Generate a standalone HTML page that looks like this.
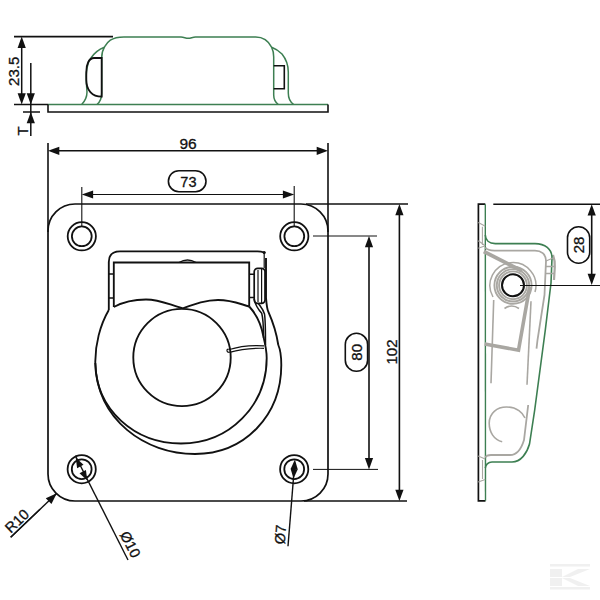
<!DOCTYPE html>
<html><head><meta charset="utf-8"><style>
html,body{margin:0;padding:0;background:#fff;width:600px;height:600px;overflow:hidden}
svg{display:block}
text{font-family:"Liberation Sans",sans-serif;stroke:#111;stroke-width:0.3px}
</style></head><body>
<svg width="600" height="600" viewBox="0 0 600 600">
<line x1="14" y1="36.6" x2="113" y2="36.6" stroke="#111" stroke-width="1.6"/>
<line x1="14" y1="104.5" x2="48" y2="104.5" stroke="#111" stroke-width="1.6"/>
<line x1="21.7" y1="40" x2="21.7" y2="101" stroke="#111" stroke-width="1.5"/>
<polygon points="21.70,36.60 25.80,47.90 17.60,47.90" fill="#111"/>
<polygon points="21.70,104.50 17.60,93.20 25.80,93.20" fill="#111"/>
<text x="13.8" y="71.3" font-size="15" text-anchor="middle" fill="#111" dominant-baseline="central" transform="rotate(-90 13.8 71.3)">23.5</text>
<line x1="30.8" y1="63" x2="30.8" y2="136" stroke="#111" stroke-width="1.5"/>
<polygon points="30.80,104.50 26.70,93.20 34.90,93.20" fill="#111"/>
<polygon points="30.80,112.00 34.90,123.30 26.70,123.30" fill="#111"/>
<line x1="23" y1="112" x2="40" y2="112" stroke="#111" stroke-width="1.5"/>
<text x="23" y="130.8" font-size="15" text-anchor="middle" fill="#111" dominant-baseline="central" transform="rotate(-90 23 130.8)">T</text>
<line x1="48" y1="104.5" x2="328" y2="104.5" stroke="#3d7f52" stroke-width="1.6"/>
<path d="M48,104.5 V112 H328 V104.5" stroke="#111" stroke-width="1.6" fill="none" />
<path d="M81.7,104.5 C86,100 87,96 87,92 C86.5,85 86,80 86.3,74 C87,66 88,61 91,58 C95,52 100,49 104.3,47.3 C107,43 110,37 124,37 H181 C184,37 185.5,38.3 188.3,38.3 C191,38.3 192.5,37 195.5,37 H255.7 C264,37 269,42 271.7,47.3 C276,49 279,51 282,54 C286,59 288.3,64 288.3,72 V93 C288.3,99 290,102 293.7,104.5" stroke="#3d7f52" stroke-width="1.5" fill="none" />
<path d="M104.3,47.3 C102,51 101.7,54 101.7,58 V93 C101.7,99 100,102 97,104.5" stroke="#3d7f52" stroke-width="1.5" fill="none" />
<path d="M271.7,47.3 C273,50 273.7,53 273.7,57 V95 C273.7,99 275,102 278.3,104.5" stroke="#3d7f52" stroke-width="1.5" fill="none" />
<path d="M101.7,58 H94 C89,58 86.3,64 86.3,72 V80 C86.3,90 92,96.7 101.7,96.7 Z" stroke="#111" stroke-width="1.8" fill="none" />
<path d="M273.7,65.7 H284.3 V88.7 H273.7" stroke="#111" stroke-width="1.6" fill="none" />
<rect x="48" y="204" width="280" height="297" rx="27" ry="27" fill="none" stroke="#111" stroke-width="1.7"/>
<line x1="48" y1="143" x2="48" y2="232" stroke="#111" stroke-width="1.6"/>
<line x1="328" y1="143" x2="328" y2="232" stroke="#111" stroke-width="1.6"/>
<line x1="52" y1="150.8" x2="324" y2="150.8" stroke="#111" stroke-width="1.6"/>
<polygon points="48.00,150.80 59.30,146.70 59.30,154.90" fill="#111"/>
<polygon points="328.00,150.80 316.70,154.90 316.70,146.70" fill="#111"/>
<text x="188" y="143.3" font-size="15.5" text-anchor="middle" fill="#111" dominant-baseline="central" transform="rotate(0 188 143.3)">96</text>
<line x1="81.8" y1="187" x2="81.8" y2="226.5" stroke="#111" stroke-width="1.1"/>
<line x1="294.2" y1="186" x2="294.2" y2="226.5" stroke="#111" stroke-width="1.1"/>
<line x1="84" y1="194.5" x2="291" y2="194.5" stroke="#111" stroke-width="1.1"/>
<polygon points="81.80,194.50 93.10,190.40 93.10,198.60" fill="#111"/>
<polygon points="294.20,194.50 282.90,198.60 282.90,190.40" fill="#111"/>
<rect x="168.4" y="170.7" width="37.599999999999994" height="21.0" rx="10.5" ry="10.5" fill="#fff" stroke="#111" stroke-width="1.6"/>
<text x="188.4" y="181.5" font-size="14.5" text-anchor="middle" fill="#111" dominant-baseline="central" transform="rotate(0 188.4 181.5)">73</text>
<circle cx="81.8" cy="236.3" r="14.1" fill="none" stroke="#111" stroke-width="1.8"/>
<circle cx="81.8" cy="236.3" r="9.9" fill="none" stroke="#111" stroke-width="1.8"/>
<circle cx="294.3" cy="236.3" r="14.1" fill="none" stroke="#111" stroke-width="1.8"/>
<circle cx="294.3" cy="236.3" r="9.9" fill="none" stroke="#111" stroke-width="1.8"/>
<circle cx="81.7" cy="469.2" r="14.1" fill="none" stroke="#111" stroke-width="1.8"/>
<circle cx="81.7" cy="469.2" r="9.9" fill="none" stroke="#111" stroke-width="1.8"/>
<circle cx="294.2" cy="469.2" r="14.1" fill="none" stroke="#111" stroke-width="1.8"/>
<circle cx="294.2" cy="469.2" r="9.9" fill="none" stroke="#111" stroke-width="1.8"/>
<line x1="306" y1="204" x2="408" y2="204" stroke="#111" stroke-width="1.5"/>
<line x1="304" y1="501" x2="407" y2="501" stroke="#111" stroke-width="1.5"/>
<line x1="399.4" y1="208" x2="399.4" y2="497" stroke="#111" stroke-width="1.6"/>
<polygon points="399.40,204.00 403.50,215.30 395.30,215.30" fill="#111"/>
<polygon points="399.40,501.00 395.30,489.70 403.50,489.70" fill="#111"/>
<text x="391.8" y="352" font-size="15" text-anchor="middle" fill="#111" dominant-baseline="central" transform="rotate(-90 391.8 352)">102</text>
<line x1="313" y1="236" x2="377" y2="236" stroke="#111" stroke-width="1"/>
<line x1="313" y1="469.4" x2="378" y2="469.4" stroke="#111" stroke-width="1"/>
<line x1="369" y1="240" x2="369" y2="466" stroke="#111" stroke-width="1.6"/>
<polygon points="369.00,236.00 373.10,247.30 364.90,247.30" fill="#111"/>
<polygon points="369.00,469.40 364.90,458.10 373.10,458.10" fill="#111"/>
<rect x="345.3" y="333.3" width="22.30000000000001" height="38.0" rx="11.150000000000006" ry="11.150000000000006" fill="#fff" stroke="#111" stroke-width="1.6"/>
<text x="356.4" y="352.3" font-size="15" text-anchor="middle" fill="#111" dominant-baseline="central" transform="rotate(-90 356.4 352.3)">80</text>
<line x1="56.8" y1="493.3" x2="10.7" y2="537.3" stroke="#111" stroke-width="1.4"/>
<polygon points="56.80,493.30 51.46,504.07 45.79,498.14" fill="#111"/>
<line x1="10.7" y1="537.3" x2="40" y2="509.3" stroke="#111" stroke-width="1.4"/>
<text x="17" y="521" font-size="14.5" text-anchor="middle" fill="#111" dominant-baseline="central" transform="rotate(-43.6 17 521)">R10</text>
<line x1="75.4" y1="455.8" x2="128" y2="560" stroke="#111" stroke-width="1.4"/>
<polygon points="75.70,457.60 83.49,464.83 77.09,468.14" fill="#111"/>
<polygon points="87.30,480.60 79.51,473.37 85.91,470.06" fill="#111"/>
<text x="130.3" y="544.5" font-size="14.5" text-anchor="middle" fill="#111" dominant-baseline="central" transform="rotate(63 130.3 544.5)">&#216;10</text>
<line x1="294.2" y1="469" x2="288" y2="546.3" stroke="#111" stroke-width="1.4"/>
<polygon points="294.90,459.60 297.80,469.43 290.62,468.92" fill="#111"/>
<polygon points="293.50,478.60 290.60,468.77 297.78,469.28" fill="#111"/>
<text x="280.5" y="534.5" font-size="14.5" text-anchor="middle" fill="#111" dominant-baseline="central" transform="rotate(-86 280.5 534.5)">&#216;7</text>
<path d="M108.8,310 V262 Q108.8,251.3 120,251.3 H257.5 Q261,251.3 264.2,252.5" stroke="#111" stroke-width="1.85" fill="none" />
<circle cx="264.2" cy="252.5" r="1.6" fill="#111"/>
<path d="M113.8,307 V262.5 H249.2 V306.5" stroke="#111" stroke-width="1.85" fill="none" />
<line x1="108.8" y1="274" x2="113.8" y2="274" stroke="#111" stroke-width="1.5"/>
<line x1="108.8" y1="298" x2="113.8" y2="298" stroke="#111" stroke-width="1.5"/>
<path d="M179,262.5 Q187.5,257.5 196,262.5" stroke="#111" stroke-width="1.3" fill="none" />
<path d="M249.2,274.2 H254 M249.2,297.5 H254" stroke="#111" stroke-width="1.6" fill="none" />
<rect x="254.2" y="268.3" width="10.8" height="35" rx="3.5" fill="#fff" stroke="#111" stroke-width="1.7"/>
<line x1="258" y1="270" x2="258" y2="302" stroke="#111" stroke-width="1.2"/>
<line x1="261.6" y1="269" x2="261.6" y2="303" stroke="#111" stroke-width="1.2"/>
<line x1="264.2" y1="252.5" x2="264.2" y2="268.3" stroke="#111" stroke-width="1.2"/>
<path d="M266,258 V298 C266.5,304 267,309 268.3,311.7 C272,320 276,330 278.3,345" stroke="#111" stroke-width="1.9" fill="none" />
<path d="M113.8,307 C125,301 138,299.5 146,299.5 C160,299.5 170,305 183,308.3 C195,304 206,300 218,300 C232,300 240,304 249.2,306.5" stroke="#111" stroke-width="1.85" fill="none" />
<circle cx="182" cy="357.5" r="48.7" fill="none" stroke="#111" stroke-width="1.85"/>
<path d="M108.8,310 C100,325 95,345 95.3,363 C96,410 135,443.5 181,443.5 C230,443.5 266.7,405 266.7,358 C266.7,350 265,343 263.3,336 C261.5,326 258,316 249.2,306.5" stroke="#111" stroke-width="1.85" fill="none" />
<path d="M254.3,299 C255,305 258,309 261.7,313.3 C263,318 263.5,325 263.6,338" stroke="#111" stroke-width="1.5" fill="none" />
<path d="M258.3,303.3 C260,306 263,309 264.5,314 C265.5,320 265.5,330 265.5,345" stroke="#111" stroke-width="1.5" fill="none" />
<path d="M95.3,363 C97,420 145,454 195,454 C245,454 281.3,415 281.3,365 C281.3,358 280.5,350 278.3,345" stroke="#111" stroke-width="1.85" fill="none" />
<path d="M228.5,349.8 C240,346 252,345 264,345.8 M229.5,352.3 C241,349 252,348 264,348.3" stroke="#111" stroke-width="1.2" fill="none" />
<path d="M229.5,352.3 C226.5,352.5 226,349.5 228.5,348.8" stroke="#111" stroke-width="1.2" fill="none" />
<path d="M485.3,204.2 H478.4 V500.8 H485.5" stroke="#111" stroke-width="1.7" fill="none" />
<line x1="485.3" y1="204.2" x2="485.5" y2="500.8" stroke="#3d7f52" stroke-width="1.4"/>
<line x1="493.3" y1="204.2" x2="600" y2="204.2" stroke="#111" stroke-width="1.6"/>
<line x1="591.7" y1="208" x2="591.7" y2="281" stroke="#111" stroke-width="1.6"/>
<polygon points="591.70,204.20 595.80,215.50 587.60,215.50" fill="#111"/>
<polygon points="591.70,285.00 587.60,273.70 595.80,273.70" fill="#111"/>
<rect x="567.5" y="226.7" width="22.200000000000045" height="36.60000000000002" rx="11.100000000000023" ry="11.100000000000023" fill="#fff" stroke="#111" stroke-width="1.6"/>
<text x="578.6" y="245" font-size="15" text-anchor="middle" fill="#111" dominant-baseline="central" transform="rotate(-90 578.6 245)">28</text>
<path d="M553,255 C554.5,259 555,263 554.8,267 L554,280" stroke="#a9a7a2" stroke-width="2.2" fill="none" />
<path d="M485.3,235 C485.5,240 489,243.6 495.3,243.6 H535 C545,243.6 552,249 552,258 L551,283 L545.3,330 L534.7,410 L529.5,444 C527,453 521,462 512,462 H492 C488,462 485.5,465 485.3,468" stroke="#3d7f52" stroke-width="1.6" fill="none" />
<path d="M485.3,247.5 C487,250 490,250.6 494.5,250.6 H535 C541,250.6 546,254 546,261 L544.5,295 L537.5,340 L536.5,348.7 M528.2,405 L524,440 C521,450 516,455 510,455 H491 C488,455 486,456 485.3,457.5" stroke="#a9a7a2" stroke-width="1.8" fill="none" />
<path d="M483.8,251.5 L522,271" stroke="#a9a7a2" stroke-width="3.8" fill="none" />
<path d="M529.7,286.7 L518.5,350.2 L484.7,344" stroke="#a9a7a2" stroke-width="3.6" fill="none" />
<line x1="493.7" y1="300" x2="491" y2="383.3" stroke="#a9a7a2" stroke-width="1.6"/>
<line x1="531" y1="301.3" x2="527" y2="384.7" stroke="#a9a7a2" stroke-width="1.6"/>
<circle cx="513" cy="285.3" r="13.9" fill="none" stroke="#a9a7a2" stroke-width="1.9"/>
<circle cx="513" cy="285.3" r="16.2" fill="none" stroke="#a9a7a2" stroke-width="1.9"/>
<circle cx="513" cy="285.3" r="18.6" fill="none" stroke="#a9a7a2" stroke-width="1.9"/>
<path d="M493,297 A23,23 0 1 1 535,292" stroke="#a9a7a2" stroke-width="1.5" fill="none" />
<circle cx="513" cy="285.3" r="11" fill="#fff" stroke="#111" stroke-width="2"/>
<line x1="520" y1="285.5" x2="600" y2="285.5" stroke="#111" stroke-width="1.1"/>
<path d="M504.5,308.5 Q511.7,303.5 519,308.5" stroke="#a9a7a2" stroke-width="1.6" fill="none" />
<path d="M502.2,441.7 C494,440 489.2,432 489.2,423.3 C489.2,413 497,407 506.5,407 C517,407 523,413 525,418" stroke="#a9a7a2" stroke-width="1.6" fill="none" />
<path d="M482.4,226.7 V245 M478.3,222.5 L485.3,226.3 M478.3,240.8 L485.3,245.8 M478.3,248.3 L485.3,245.8" stroke="#a9a7a2" stroke-width="1.1" fill="none" />
<path d="M482.5,460 V479 M478.2,456 L485.2,459 M478.2,482 L485.2,479.5" stroke="#a9a7a2" stroke-width="1.1" fill="none" />
<path d="M546,261 L553,258 M545.5,266.5 H554 M545,273.5 H554" stroke="#a9a7a2" stroke-width="1.3" fill="none" />
<g fill="#f0f0f0"><rect x="550" y="564" width="40" height="2.5"/><rect x="550" y="587" width="40" height="2.5"/><rect x="550" y="569" width="12" height="8"/><rect x="550" y="578" width="12" height="8"/><polygon points="562,577 578,569 590,569 570,577"/><polygon points="562,578 570,578 590,586 578,586"/></g>
</svg>
</body></html>
